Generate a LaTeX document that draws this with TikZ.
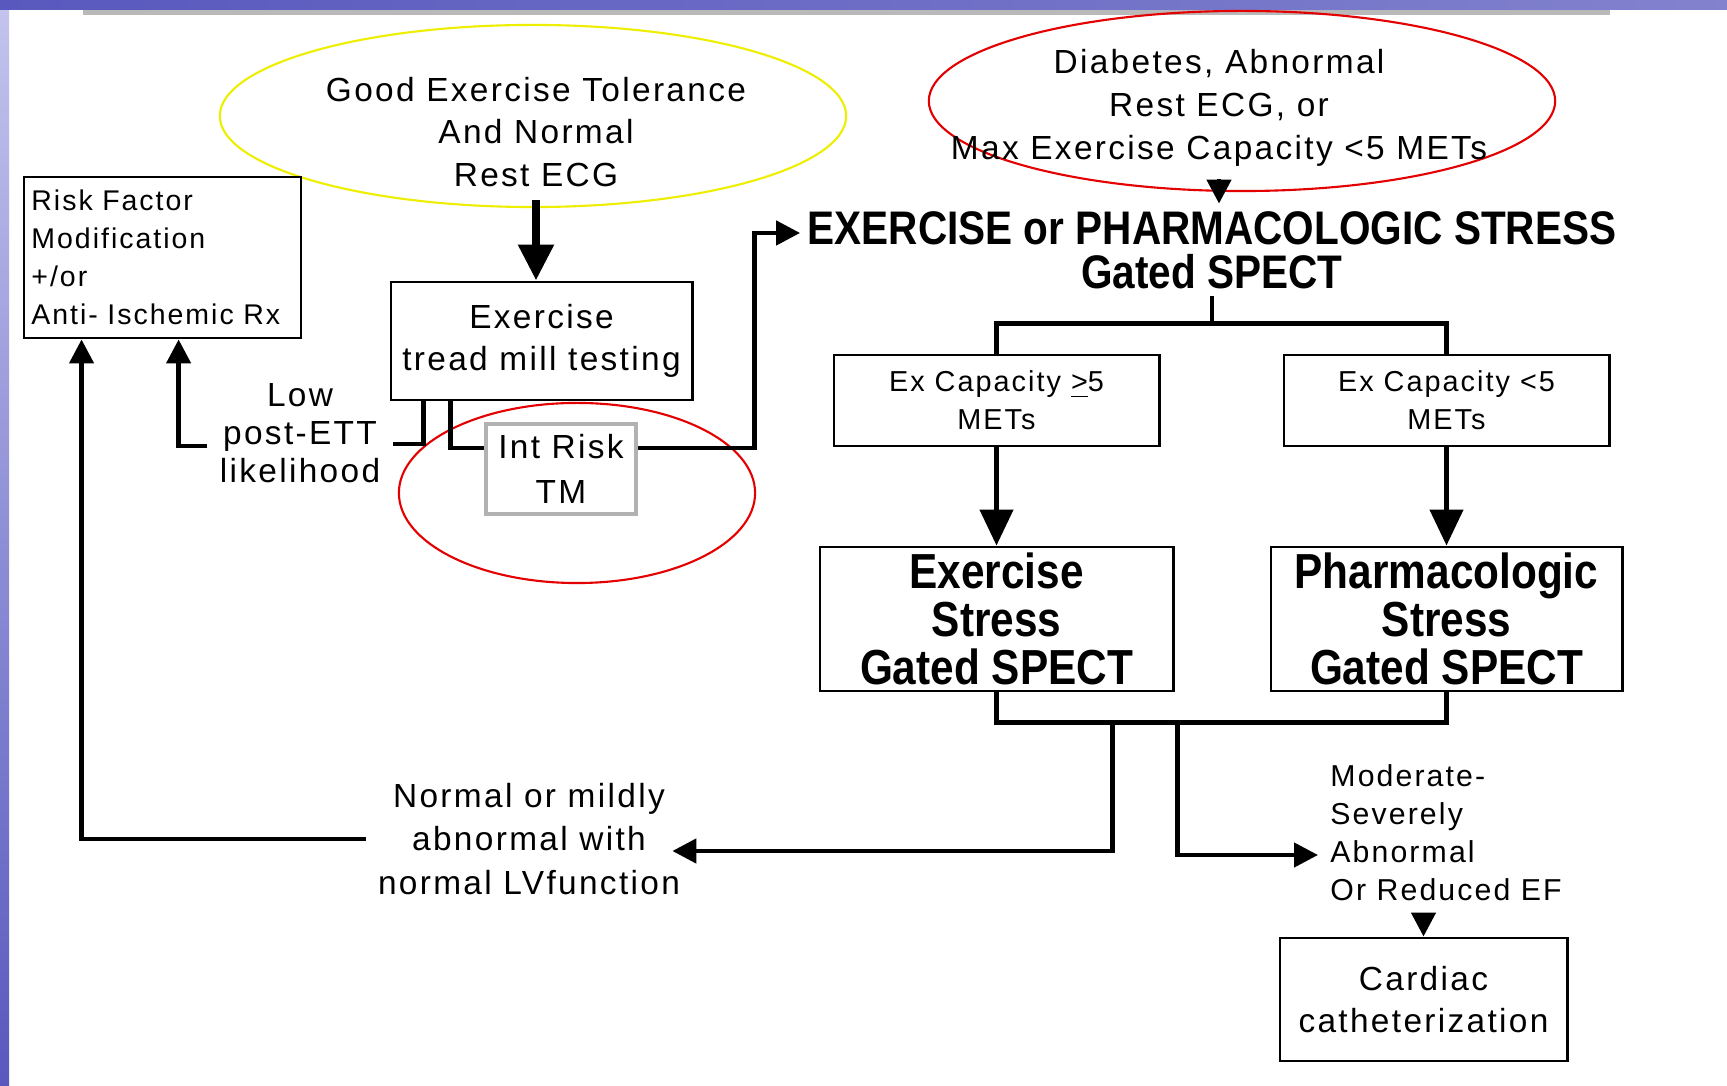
\documentclass[tikz,border=0pt]{standalone}
\usepackage{fontspec}
\setmainfont{Liberation Sans}[LetterSpace=7]
\newfontfamily\condbold{Liberation Sans}[FakeStretch=0.86]
\usepackage{tikz}
\usetikzlibrary{arrows.meta,positioning,shapes.geometric}
\definecolor{barblue}{RGB}{88,88,190}
\definecolor{lavblue}{RGB}{196,196,238}
\definecolor{ringred}{RGB}{228,0,0}
\definecolor{ringyel}{RGB}{238,238,0}

\begin{document}
\begin{tikzpicture}[x=0.01cm,y=-0.01cm,
  box/.style={draw,line width=0.8pt,inner sep=0pt,align=center,
              font=\fontsize{9.5}{12}\selectfont},
  bigbox/.style={box,font=\condbold\bfseries\fontsize{14}{13.6}\selectfont},
  lbl/.style={align=center,font=\fontsize{9.5}{12.2}\selectfont},
  ring/.style={ellipse,draw=#1,line width=0.6pt,inner sep=0pt},
  ln/.style={line width=1.3pt},
  ar/.style={-{Triangle[length=3.6mm,width=3.3mm]},line width=1.3pt},
  arb/.style={-{Triangle[length=3.6mm,width=3.4mm]},line width=2.4pt},
  ars/.style={-{Triangle[length=2.4mm,width=2.4mm]},line width=1.3pt}
]
\useasboundingbox (0,0) rectangle (1727,1086);
% slide frame
\fill[white] (0,0) rectangle (1727,1086);
\shade[top color=lavblue, bottom color=barblue] (0,0) rectangle (9,1086);
\shade[left color=barblue, right color=barblue!75!white] (0,0) rectangle (1727,10);
\fill[gray!55] (83,10) rectangle (1610,15);

\node[ring=ringyel,minimum width=6.26cm,minimum height=1.82cm] (goodring) at (533,116) {};
\node[ring=ringred,minimum width=6.26cm,minimum height=1.80cm] (diabring) at (1242,101) {};
\node[lbl] (goodtxt) at (536,132) {Good Exercise Tolerance\\And Normal\\Rest ECG};
\node[lbl] (diabtxt) at (1219,108) {Diabetes, Abnormal\\Rest ECG, or\\Max Exercise Capacity <5 METs};
\node[align=center,inner sep=2pt,font=\condbold\bfseries\fontsize{13.4}{12.5}\selectfont]
  (stress) at (1212,250) {EXERCISE or PHARMACOLOGIC STRESS\\Gated SPECT};

\node[box,align=left,text width=2.62cm,inner xsep=0.075cm,minimum height=1.61cm,
      font=\fontsize{8.1}{10.8}\selectfont] (rfm) at (162.5,257.5)
  {Risk Factor\\Modification\\+/or\\Anti- Ischemic Rx};
\node[box,minimum width=3.01cm,minimum height=1.18cm] (ett) at (541.5,341)
  {Exercise\\tread mill testing};
\node[box,draw=gray!60,line width=1.3pt,minimum width=1.50cm,minimum height=0.90cm,
      font=\fontsize{9.5}{12.8}\selectfont] (intrisk) at (561,469) {Int Risk\\TM};
\node[ring=ringred,minimum width=3.56cm,minimum height=1.80cm] (riskring) at (577,493) {};
\node[lbl,font=\fontsize{9.5}{10.8}\selectfont] (lowtxt) at (300,433) {Low\\post-ETT\\likelihood};

\node[box,minimum width=3.25cm,minimum height=0.91cm,font=\fontsize{8.2}{10.8}\selectfont]
  (capHi) at (996.5,400.5) {Ex Capacity \underline{>}5\\METs};
\node[box,minimum width=3.25cm,minimum height=0.91cm,font=\fontsize{8.2}{10.8}\selectfont]
  (capLo) at (1446.5,400.5) {Ex Capacity <5\\METs};
\node[bigbox,minimum width=3.53cm,minimum height=1.44cm] (exSpect) at (996.5,619)
  {Exercise\\Stress\\Gated SPECT};
\node[bigbox,minimum width=3.51cm,minimum height=1.44cm] (phSpect) at (1446.5,619)
  {Pharmacologic\\Stress\\Gated SPECT};

\node[lbl,font=\fontsize{9.5}{12.4}\selectfont] (normtxt) at (529,839)
  {Normal or mildly\\abnormal with\\normal LVfunction};
\node[lbl,align=left,anchor=west,font=\fontsize{8.6}{10.8}\selectfont] (modtxt) at (1318,833)
  {Moderate-\\Severely\\Abnormal\\Or Reduced EF};
\node[box,minimum width=2.87cm,minimum height=1.23cm] (cath) at (1423.5,999.5)
  {Cardiac\\catheterization};

% connectors
\draw[arb] (goodtxt.south) -- (goodtxt.south |- ett.north);
\draw[ln] ([xshift=0.34cm]ett.south west) |- ([yshift=-0.11cm]lowtxt.east);
\draw[ars] ([yshift=-0.13cm]lowtxt.west) -| ([xshift=1.56cm]rfm.south west);
\draw[ln] ([xshift=0.61cm]ett.south west) |- ([yshift=0.21cm]intrisk.west);
\draw[ars] ([yshift=0.21cm]intrisk.east) -- ++(116,0) |- ([yshift=0.17cm]stress.west);
\draw[ars] (diabtxt.south) -- (diabtxt.south |- stress.north);
\draw[ln] (capHi.north) -- ++(0,-30) coordinate (bar) -| (capLo.north);
\draw[ln] (stress.south) -- (stress.south |- bar);
\draw[ar] (capHi) -- (exSpect);
\draw[ar] (capLo) -- (phSpect);
\draw[ln] (exSpect.south) -- ++(0,30) coordinate (join) -| (phSpect.south);
\draw[ars] ([xshift=1.16cm]join) |- ([xshift=-0.2cm,yshift=-0.12cm]normtxt.east);
\draw[ars] ([xshift=1.81cm]join) |- ([yshift=-0.22cm]modtxt.west);
\draw[ars] (normtxt.west) -| ([xshift=0.59cm]rfm.south west);
\draw[ars] (modtxt.south -| cath.north) -- (cath.north);
\end{tikzpicture}
\end{document}
